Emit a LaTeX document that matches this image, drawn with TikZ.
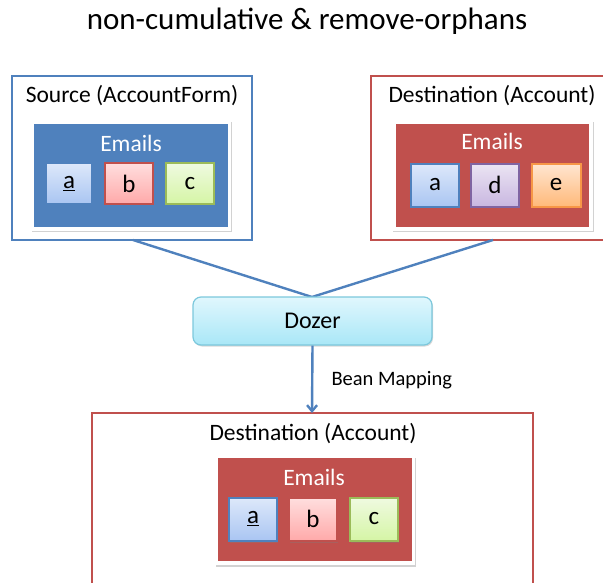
\documentclass[tikz,border=0pt]{standalone}
\usepackage{fontspec}
\setmainfont{Carlito}
\usetikzlibrary{shadows,arrows.meta}
\definecolor{cblue}{HTML}{4F81BD}
\definecolor{cred}{HTML}{C0504D}
\definecolor{cgreen}{HTML}{9BBB59}
\definecolor{cpurple}{HTML}{8064A2}
\definecolor{corange}{HTML}{F79646}
\definecolor{dozerb}{HTML}{7CC8DC}
\definecolor{atop}{HTML}{DDE8FA}\definecolor{abot}{HTML}{A9C5F2}
\definecolor{btop}{HTML}{FFDEDE}\definecolor{bbot}{HTML}{FFA9A9}
\definecolor{ctop}{HTML}{EFFAE0}\definecolor{cbot}{HTML}{D5F5A5}
\definecolor{dtop}{HTML}{EBE4F3}\definecolor{dbot}{HTML}{C8B6E0}
\definecolor{etop}{HTML}{FFE5D0}\definecolor{ebot}{HTML}{FFB979}
\definecolor{ztop}{HTML}{E0F7FD}\definecolor{zbot}{HTML}{A9E7F7}
\begin{document}
\begin{tikzpicture}[x=1pt,y=-1pt,
  outer/.style={draw=#1, line width=2.4pt, fill=white},
  frame/.style={fill=white, drop shadow={shadow xshift=1pt, shadow yshift=-1.5pt, opacity=0.35}},
  inner/.style={fill=#1},
  sq/.style n args={3}{draw=#1, line width=1.2pt, top color=#2, bottom color=#3,
     drop shadow={shadow xshift=1pt, shadow yshift=-1.5pt, opacity=0.35}},
  conn/.style={draw=cblue, line width=2.4pt},
  ttl/.style={font=\fontsize{23.5}{26}\selectfont},
  eml/.style={font=\fontsize{23.5}{26}\selectfont, text=white},
  letter/.style={font=\fontsize{25}{28}\selectfont}]
\useasboundingbox (0,0) rectangle (603,583);
\node[font=\fontsize{31}{34}\selectfont] (title) at (307,21) {non-cumulative \& remove-orphans};
% Source box
\path[outer=cblue] (12,76) rectangle (252,240);
\node[ttl] (srct) at (132,96) {Source (AccountForm)};
\path[frame] (31,121) rectangle (231,231);
\path[inner=cblue] (34,124) rectangle (228,227);
\node[eml] (srce) at (131,143) {Emails};
\path[sq={cblue}{atop}{abot}] (46,163) rectangle (92,204);
\path[sq={cred}{btop}{bbot}] (105,163) rectangle (153,204);
\path[sq={cgreen}{ctop}{cbot}] (166,163) rectangle (214,204);
\node[letter] (sa) at (69,184) {\underline{a}};
\node[letter] (sb) at (129,184) {b};
\node[letter] (sc) at (190,184) {c};
% Destination box (right)
\path[outer=cred] (371,76) rectangle (606,240);
\node[ttl] (dstt) at (492,96) {Destination (Account)};
\path[frame] (392,121) rectangle (593,231);
\path[inner=cred] (396,124) rectangle (589,227);
\node[eml] (dste) at (492,141) {Emails};
\path[sq={cblue}{atop}{abot}] (411,164) rectangle (459,207);
\path[sq={cpurple}{dtop}{dbot}] (471,164) rectangle (519,207);
\path[sq={corange}{etop}{ebot}] (532,164) rectangle (581,207);
\node[letter] (da) at (435,185) {a};
\node[letter] (dd) at (495,185) {d};
\node[letter] (de) at (556,185) {e};
% connectors
\coordinate (s1) at (133,240);
\coordinate (d1) at (493,240);
\coordinate (dz) at (312,297);
\draw[conn] (s1) -- (dz);
\draw[conn] (d1) -- (dz);
% Dozer
\node[draw=dozerb, line width=1.2pt, rounded corners=8pt, top color=ztop, bottom color=zbot,
  minimum width=239pt, minimum height=48pt, font=\fontsize{24}{26}\selectfont,
  drop shadow={shadow xshift=1pt, shadow yshift=-1.5pt, opacity=0.3}] (dozer) at (312.5,321) {Dozer};
% bottom box
\path[outer=cred] (92,413) rectangle (533,600);
\coordinate (bt) at (312,413);
\draw[conn, -{Straight Barb[length=6pt,width=10pt]}] (dozer.south) -- (bt);
\node[anchor=west, font=\fontsize{20.5}{23}\selectfont] (bm) at (328,380) {Bean Mapping};
\node[ttl] (bott) at (313,434) {Destination (Account)};
\path[frame] (215,456) rectangle (415,565);
\path[inner=cred] (218,458) rectangle (412,561);
\node[eml] (bote) at (314,477) {Emails};
\path[sq={cblue}{atop}{abot}] (229,498) rectangle (277,541);
\path[sq={cred}{btop}{bbot}] (289,498) rectangle (337,541);
\path[sq={cgreen}{ctop}{cbot}] (350,498) rectangle (398,541);
\node[letter] (ba) at (253,519) {\underline{a}};
\node[letter] (bb) at (313,519) {b};
\node[letter] (bc) at (374,519) {c};
\end{tikzpicture}
\end{document}
